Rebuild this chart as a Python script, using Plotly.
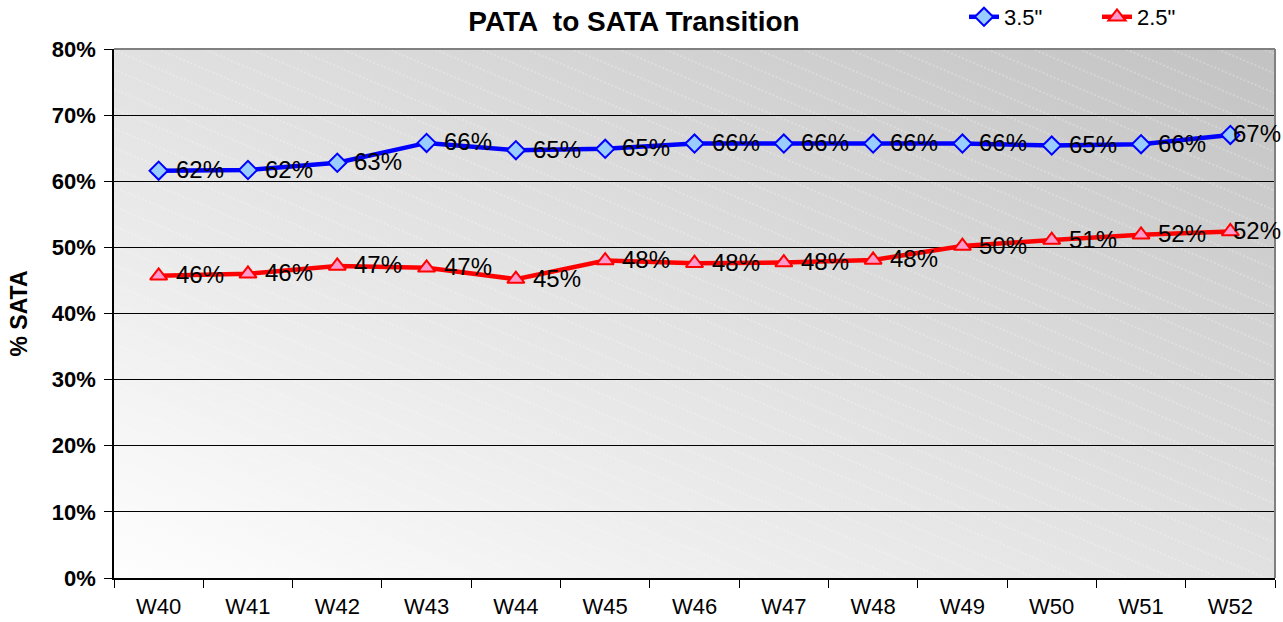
import base64
import plotly.graph_objects as go

weeks = ["W40", "W41", "W42", "W43", "W44", "W45", "W46", "W47", "W48", "W49", "W50", "W51", "W52"]
sata_35 = [61.6, 61.7, 62.8, 65.8, 64.7, 64.9, 65.7, 65.7, 65.7, 65.7, 65.4, 65.6, 67.0]
sata_25 = [45.7, 46.0, 47.2, 46.9, 45.2, 48.0, 47.6, 47.7, 48.1, 50.2, 51.1, 51.9, 52.4]
y_ticks = [0, 10, 20, 30, 40, 50, 60, 70, 80]

svg = """<svg xmlns='http://www.w3.org/2000/svg' width='1161' height='529' viewBox='0 0 1161 529' preserveAspectRatio='none'>
<defs>
<linearGradient id='g' x1='0' y1='1' x2='1' y2='0'>
<stop offset='0' stop-color='#fefefe'/>
<stop offset='0.5' stop-color='#e1e1e1'/>
<stop offset='1' stop-color='#c2c2c2'/>
</linearGradient>
<pattern id='p' width='60' height='18' patternUnits='userSpaceOnUse' patternTransform='rotate(23)'>
<line x1='0' y1='1' x2='60' y2='1' stroke='#ffffff' stroke-width='0.9' stroke-dasharray='2,2' opacity='0.5'/>
</pattern>
</defs>
<rect width='1161' height='529' fill='url(#g)'/>
<rect width='1161' height='529' fill='url(#p)'/>
</svg>"""
bg_src = "data:image/svg+xml;base64," + base64.b64encode(svg.encode()).decode()

FONT = "Arial, Liberation Sans, sans-serif"

fig = go.Figure()
fig.add_trace(go.Scatter(
    x=weeks, y=sata_35, name='3.5"', mode="lines+markers",
    line=dict(color="#0000ff", width=4.5),
    marker=dict(symbol="diamond", size=14, color="#99ccff", line=dict(color="#0000ff", width=2)),
))
fig.add_trace(go.Scatter(
    x=weeks, y=sata_25, name='2.5"', mode="lines+markers",
    line=dict(color="#ff0000", width=4.5),
    marker=dict(symbol="triangle-up", size=15, color="#ff99cc", line=dict(color="#ff0000", width=2)),
))

annotations = []
last = len(weeks) - 1
for series in (sata_35, sata_25):
    for i, (w, v) in enumerate(zip(weeks, series)):
        annotations.append(dict(
            x=w, y=v, xref="x", yref="y", text=f"{v:.0f}%", showarrow=False,
            xanchor="left", yanchor="middle", xshift=(1 if i == last else 15), yshift=1,
            font=dict(family=FONT, size=24, color="black"),
        ))

fig.update_layout(
    width=1283, height=622,
    margin=dict(l=114, r=8, t=49, b=44, autoexpand=False),
    paper_bgcolor="white", plot_bgcolor="#e0e0e0",
    font=dict(family=FONT, color="black"),
    title=dict(text="<b>PATA  to SATA Transition</b>", x=634 / 1283, xanchor="center",
               xref="container", yref="container", y=1 - 21 / 622, yanchor="middle",
               font=dict(size=28)),
    legend=dict(orientation="h", xref="container", yref="container",
                x=964 / 1283, y=1 - 17 / 622, xanchor="left", yanchor="middle",
                font=dict(size=22), bgcolor="rgba(0,0,0,0)",
                entrywidth=88, entrywidthmode="pixels", traceorder="normal"),
    showlegend=True,
    annotations=annotations,
    images=[dict(source=bg_src, xref="paper", yref="paper", x=0, y=1, sizex=1, sizey=1,
                 sizing="stretch", layer="below", xanchor="left", yanchor="top")],
)
fig.update_xaxes(
    type="category", range=[-0.5, 12.5], showgrid=False, tickson="boundaries",
    ticks="outside", ticklen=8, tickcolor="black", showline=True, linecolor="black", linewidth=1.5,
    tickfont=dict(size=22), ticklabelstandoff=8, zeroline=False, automargin=False,
)
fig.update_yaxes(
    range=[0, 80], tickvals=y_ticks, ticktext=[f"<b>{v}%</b>" for v in y_ticks],
    ticks="outside", ticklen=8, tickcolor="black", showline=True, linecolor="black", linewidth=1.5,
    showgrid=True, gridcolor="black", gridwidth=1, zeroline=False,
    tickfont=dict(size=22), ticklabelstandoff=4, automargin=False,
    title=dict(text="<b>% SATA</b>", font=dict(size=23), standoff=18),
)
# gray border on top and right
fig.add_shape(type="line", xref="paper", yref="paper", x0=0, x1=1, y0=1, y1=1, line=dict(color="#808080", width=2))
fig.add_shape(type="line", xref="paper", yref="paper", x0=1, x1=1, y0=0, y1=1, line=dict(color="#808080", width=2))

fig.write_html("out.html", config={"displayModeBar": False},
               post_script="document.body.style.margin='0';document.body.style.overflow='hidden';")
